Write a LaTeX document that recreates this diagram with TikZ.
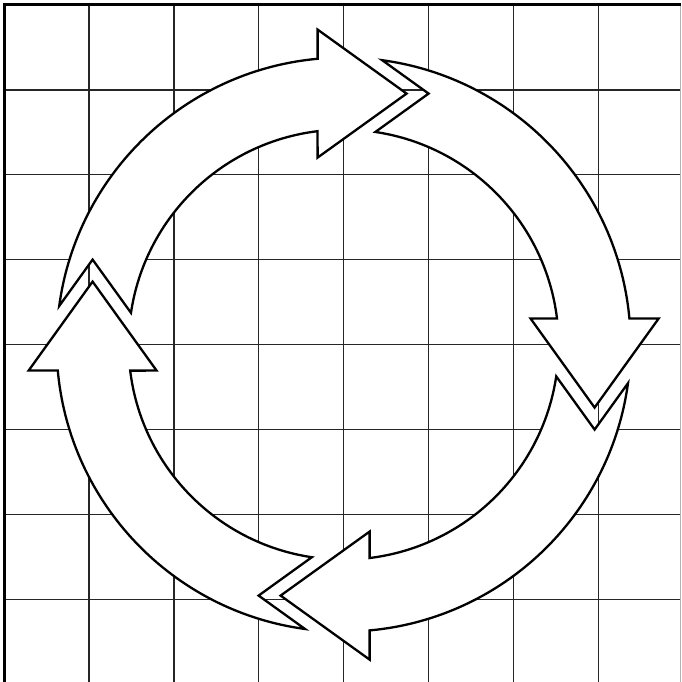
\documentclass[tikz,border=0pt]{standalone}
\begin{document}
\begin{tikzpicture}[x=1pt,y=1pt,
  gridline/.style={draw=black!85,line width=1.4pt},
  borderline/.style={draw=black,line width=3pt},
  ringarrow/.style={draw=black,fill=white,line width=2.3pt,line join=miter}]
\useasboundingbox (0,0) rectangle (681,682);
% grid
\foreach \k in {1,...,7}{
  \draw[gridline] ({4+84.9*\k},0) -- ({4+84.9*\k},677);
  \draw[gridline] (4,{677-84.9*\k}) -- (681,{677-84.9*\k});
}
\draw[draw=black!30,line width=1pt] (680.5,0) -- (680.5,677);
\draw[borderline] (4,0) -- (4,677) -- (681,677);
% ring of four arrows
\coordinate (c) at (343.6,337.4);
\foreach \r in {0,-90,-180,-270}{
  \begin{scope}[shift={(c)},rotate=\r]
    \draw[ringarrow] (172.27:287) arc[start angle=172.27,end angle=95.2,radius=287]
      -- (-26,315) -- (63,251) -- (-26,187) -- (96.95:215)
      arc[start angle=96.95,end angle=171.5,radius=215]
      -- (-251,85) -- cycle;
  \end{scope}
}
\end{tikzpicture}
\end{document}
